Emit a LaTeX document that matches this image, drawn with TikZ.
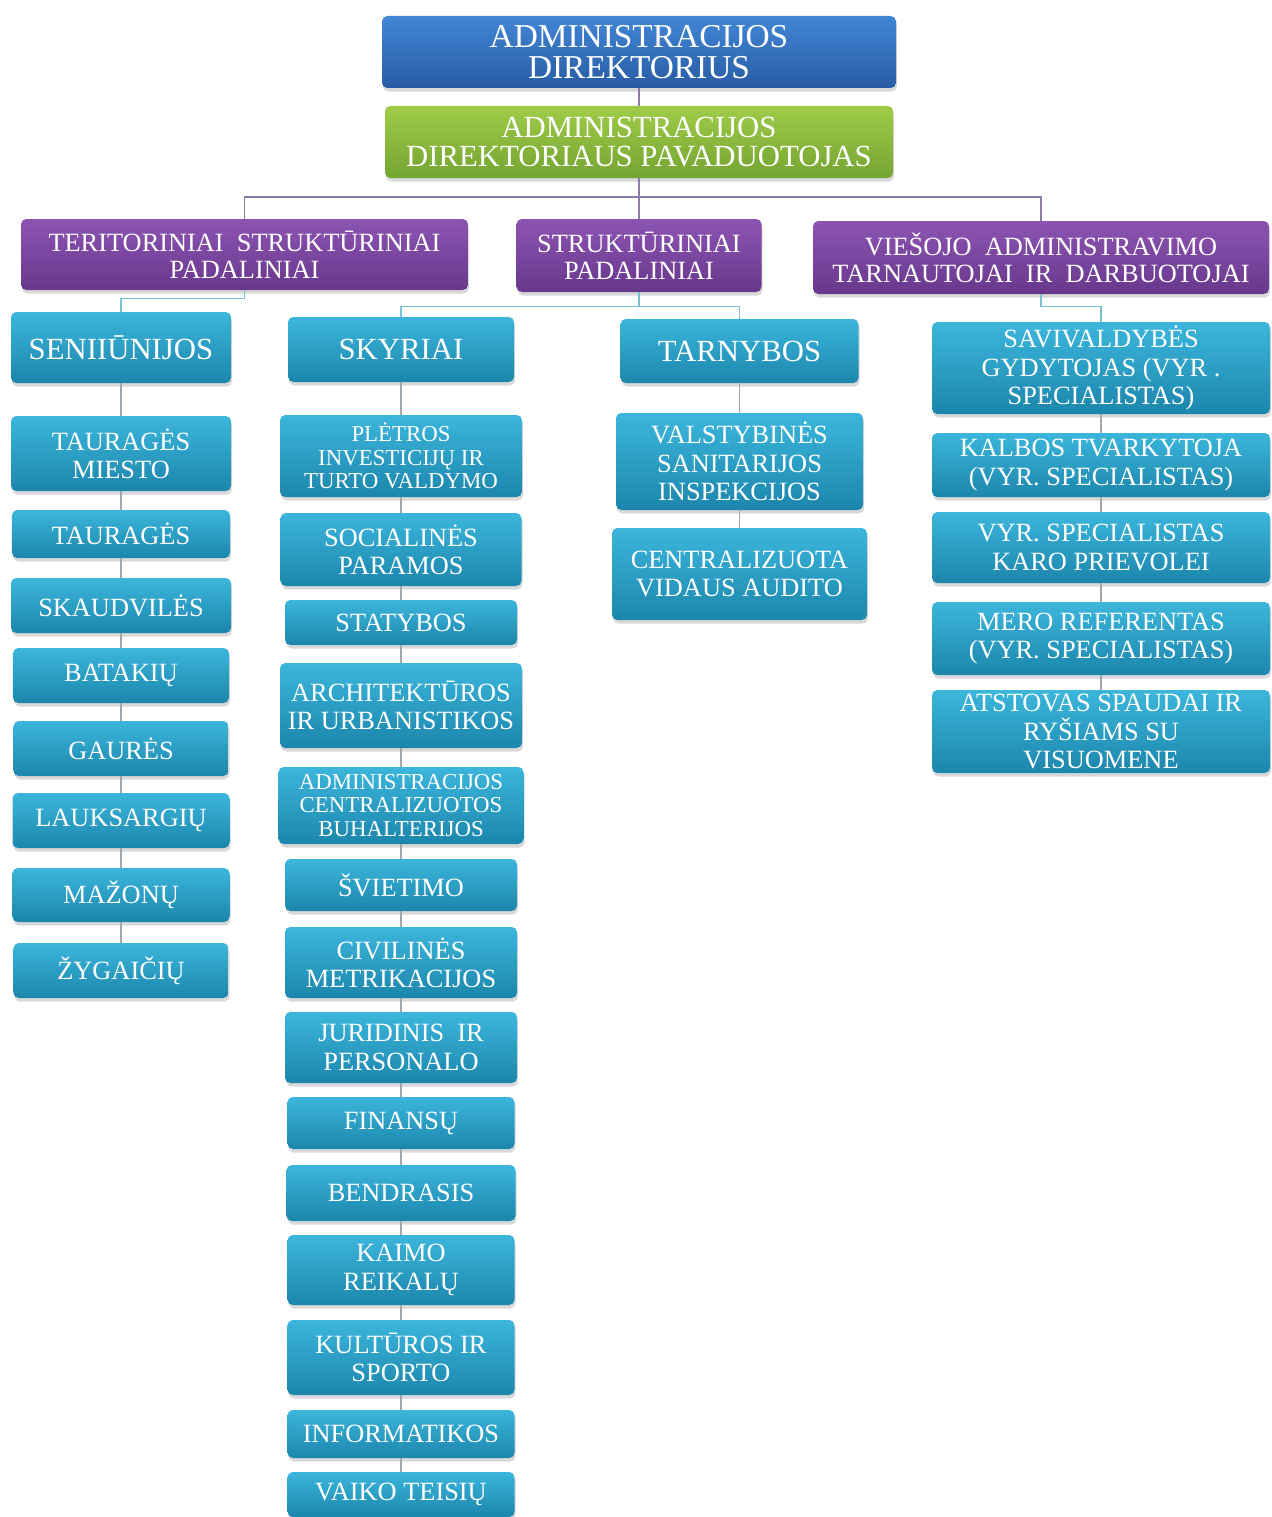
\documentclass[tikz,border=0pt]{standalone}
\usepackage{fontspec}
\setmainfont{Liberation Serif}
\usepackage{xcolor}
\usepackage{tikz}
\usetikzlibrary{shadows}
\definecolor{bluetop}{RGB}{66,134,214}
\definecolor{bluebot}{RGB}{40,92,164}
\definecolor{greentop}{RGB}{160,204,72}
\definecolor{greenbot}{RGB}{116,164,50}
\definecolor{purptop}{RGB}{140,84,178}
\definecolor{purpbot}{RGB}{104,56,140}
\definecolor{tealtop}{RGB}{60,182,220}
\definecolor{tealbot}{RGB}{28,134,172}
\definecolor{linkpurp}{RGB}{140,122,168}
\definecolor{linkteal}{RGB}{120,194,216}
\definecolor{linkgray}{RGB}{160,168,176}

\tikzset{
  unit/.style={rounded corners=3pt, align=center, text=white, inner sep=1pt,
    drop shadow={shadow xshift=0.6pt, shadow yshift=-2pt, opacity=0.3}},
  sz/.style 2 args={minimum width=#1cm, minimum height=#2cm},
  dirbox/.style={unit, top color=bluetop, bottom color=bluebot, font=\fontsize{19}{18}\selectfont},
  depbox/.style={unit, top color=greentop, bottom color=greenbot, font=\fontsize{17.5}{17}\selectfont},
  grpbox/.style={unit, top color=purptop, bottom color=purpbot, font=\fontsize{15}{15.5}\selectfont},
  headitem/.style={unit, top color=tealtop, bottom color=tealbot, font=\fontsize{17.5}{17}\selectfont},
  item/.style={unit, top color=tealtop, bottom color=tealbot, font=\fontsize{15}{16.2}\selectfont},
  smallitem/.style={item, font=\fontsize{13}{13.4}\selectfont},
  toplink/.style={draw=linkpurp, line width=0.9pt},
  sublink/.style={draw=linkteal, line width=0.9pt},
  link/.style={draw=linkgray, line width=0.8pt}
}

\begin{document}
\begin{tikzpicture}
  \useasboundingbox (0,0) rectangle (25.42,-30.34);

  % Top management
  \node[dirbox, sz={10.28}{1.44}] (dir) at (12.78,-1.04) {ADMINISTRACIJOS\\DIREKTORIUS};
  \node[depbox, sz={10.16}{1.44}] (dep) at (12.78,-2.84) {ADMINISTRACIJOS\\DIREKTORIAUS PAVADUOTOJAS};

  % Groups
  \node[grpbox, sz={8.94}{1.42}] (ter) at (4.89,-5.09) {TERITORINIAI~ STRUKTŪRINIAI\\PADALINIAI};
  \node[grpbox, sz={4.90}{1.46}] (str) at (12.78,-5.11) {STRUKTŪRINIAI\\PADALINIAI};
  \node[grpbox, sz={9.12}{1.46}] (vie) at (20.82,-5.15) {VIEŠOJO~ ADMINISTRAVIMO\\TARNAUTOJAI~ IR~ DARBUOTOJAI};

  \coordinate (bus) at (12.78,-3.94);
  \draw[toplink] (dir.south) -- (dep.north);
  \draw[toplink] (dep.south) -- (bus);
  \draw[toplink] (bus) -| (ter.north);
  \draw[toplink] (bus) -- (str.north);
  \draw[toplink] (bus) -| (vie.north);

  % Column heads
  \node[headitem, sz={4.40}{1.42}] (sen) at (2.42,-6.95) {SENIIŪNIJOS};
  \node[headitem, sz={4.52}{1.30}] (sky) at (8.02,-6.99) {SKYRIAI};
  \node[headitem, sz={4.76}{1.28}] (tar) at (14.79,-7.02) {TARNYBOS};
  \node[item, sz={6.76}{1.84}] (sav) at (22.02,-7.36) {SAVIVALDYBĖS\\GYDYTOJAS (VYR .\\SPECIALISTAS)};

  \draw[sublink] (ter.south) -- ++(0,-0.16) -| (sen.north);
  \draw[sublink] (str.south) -- ++(0,-0.28) -| (sky.north);
  \draw[sublink] (str.south) -- ++(0,-0.28) -| (tar.north);
  \draw[sublink] (vie.south) -- ++(0,-0.24) -| (sav.north);

  % Seniunijos
  \node[item, sz={4.40}{1.50}] (tm) at (2.42,-9.07) {TAURAGĖS\\MIESTO};
  \node[item, sz={4.36}{0.96}] (taur) at (2.42,-10.68) {TAURAGĖS};
  \node[item, sz={4.40}{1.10}] (skaud) at (2.42,-12.11) {SKAUDVILĖS};
  \node[item, sz={4.32}{1.10}] (batak) at (2.42,-13.51) {BATAKIŲ};
  \node[item, sz={4.30}{1.10}] (gaur) at (2.42,-14.97) {GAURĖS};
  \node[item, sz={4.34}{1.10}] (lauks) at (2.42,-16.41) {LAUKSARGIŲ};
  \node[item, sz={4.34}{1.08}] (mazon) at (2.42,-17.90) {MAŽONŲ};
  \node[item, sz={4.30}{1.10}] (zyg) at (2.42,-19.41) {ŽYGAIČIŲ};

  % Skyriai
  \node[smallitem, sz={4.84}{1.64}] (plet) at (8.02,-9.12) {PLĖTROS\\INVESTICIJŲ IR\\TURTO VALDYMO};
  \node[item, sz={4.82}{1.46}] (soc) at (8.02,-10.99) {SOCIALINĖS\\PARAMOS};
  \node[item, sz={4.64}{0.90}] (stat) at (8.02,-12.45) {STATYBOS};
  \node[item, sz={4.84}{1.70}] (arch) at (8.02,-14.11) {ARCHITEKTŪROS\\IR URBANISTIKOS};
  \node[smallitem, sz={4.90}{1.54}] (buh) at (8.02,-16.11) {ADMINISTRACIJOS\\CENTRALIZUOTOS\\BUHALTERIJOS};
  \node[item, sz={4.64}{1.04}] (svi) at (8.02,-17.70) {ŠVIETIMO};
  \node[item, sz={4.64}{1.42}] (civ) at (8.02,-19.25) {CIVILINĖS\\METRIKACIJOS};
  \node[item, sz={4.64}{1.42}] (jur) at (8.02,-20.95) {JURIDINIS~ IR\\PERSONALO};
  \node[item, sz={4.54}{1.04}] (fin) at (8.02,-22.46) {FINANSŲ};
  \node[item, sz={4.58}{1.12}] (bend) at (8.02,-23.86) {BENDRASIS};
  \node[item, sz={4.54}{1.40}] (kaim) at (8.02,-25.40) {KAIMO\\REIKALŲ};
  \node[item, sz={4.54}{1.50}] (kult) at (8.02,-27.15) {KULTŪROS IR\\SPORTO};
  \node[item, sz={4.54}{0.96}] (info) at (8.02,-28.68) {INFORMATIKOS};
  \node[item, sz={4.54}{0.90}] (vaik) at (8.02,-29.89) {VAIKO TEISIŲ};

  % Tarnybos
  \node[item, sz={4.94}{1.94}] (vss) at (14.79,-9.23) {VALSTYBINĖS\\SANITARIJOS\\INSPEKCIJOS};
  \node[item, sz={5.10}{1.84}] (audit) at (14.79,-11.48) {CENTRALIZUOTA\\VIDAUS AUDITO};

  % Tarnautojai
  \node[item, sz={6.76}{1.28}] (kalb) at (22.02,-9.30) {KALBOS TVARKYTOJA\\(VYR. SPECIALISTAS)};
  \node[item, sz={6.76}{1.42}] (karo) at (22.02,-10.95) {VYR. SPECIALISTAS\\KARO PRIEVOLEI};
  \node[item, sz={6.76}{1.46}] (mero) at (22.02,-12.77) {MERO REFERENTAS\\(VYR. SPECIALISTAS)};
  \node[item, sz={6.76}{1.66}] (atst) at (22.02,-14.63) {ATSTOVAS SPAUDAI IR\\RYŠIAMS SU\\VISUOMENE};

  % Column links
  \foreach \a/\b in {sen/tm, tm/taur, taur/skaud, skaud/batak, batak/gaur, gaur/lauks, lauks/mazon, mazon/zyg,
                     sky/plet, plet/soc, soc/stat, stat/arch, arch/buh, buh/svi, svi/civ, civ/jur, jur/fin,
                     fin/bend, bend/kaim, kaim/kult, kult/info, info/vaik,
                     tar/vss, vss/audit,
                     sav/kalb, kalb/karo, karo/mero, mero/atst}
    \draw[link] (\a.south) -- (\b.north);
\end{tikzpicture}
\end{document}
